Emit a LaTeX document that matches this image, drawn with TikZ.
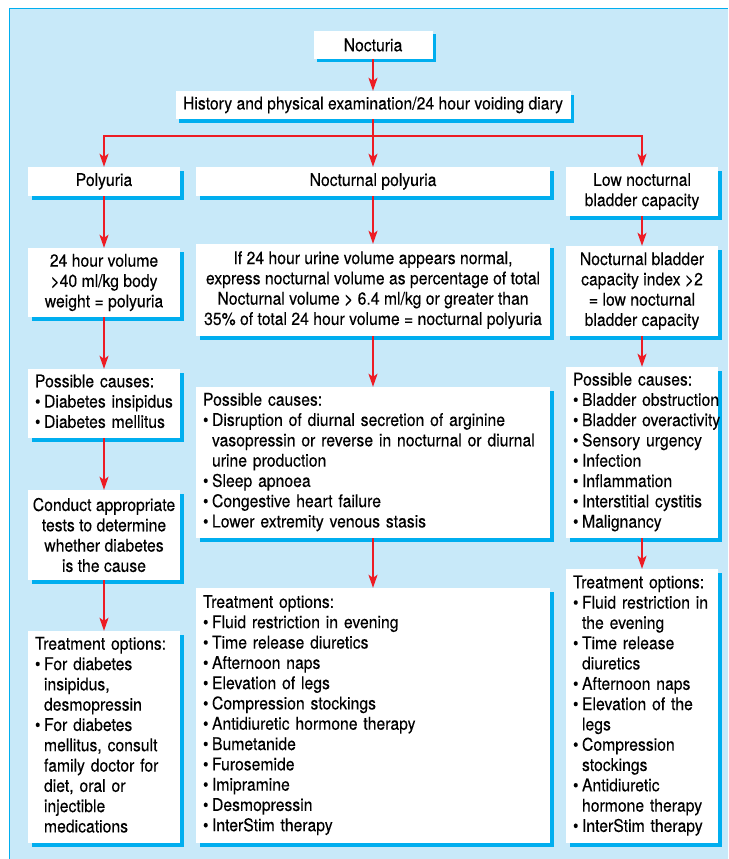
\documentclass[tikz,border=0pt]{standalone}
\usepackage{fontspec}
\setmainfont{TeX Gyre Heros}[FakeStretch=0.9,FakeBold=0.2]
\usepackage{xcolor}
\usetikzlibrary{arrows.meta,shadows}
\definecolor{bgblue}{RGB}{200,233,249}
\definecolor{shcyan}{RGB}{0,174,239}
\definecolor{arred}{RGB}{237,28,36}
\newcommand{\bul}{\textbullet\hspace{3.5pt}}
\newcommand{\ind}{\phantom{\textbullet\hspace{3.5pt}}}
\newcommand{\rows}[1]{\begin{tabular}{@{}l@{}}#1\end{tabular}}
\tikzset{
  box/.style={fill=white,inner ysep=3pt,
    font=\fontsize{17.5}{20.3}\selectfont,
    drop shadow={shadow xshift=3.5pt,shadow yshift=-3.5pt,fill=shcyan,opacity=1}},
  ctr/.style 2 args={box,align=center,inner xsep=3pt,minimum width=#1pt,minimum height=#2pt},
  lst/.style 2 args={box,align=left,inner xsep=7pt,text width=#1pt-14pt,minimum height=#2pt},
  arr/.style={draw=arred,line width=1.6pt,-{Stealth[length=13pt,width=9pt,inset=3pt]}},
}
\begin{document}
\begin{tikzpicture}[x=1pt,y=-1pt]
  \useasboundingbox (0,0) rectangle (728,859);
  % light blue panel
  \fill[bgblue] (9,9) rectangle (728,859);
  \draw[shcyan,line width=1pt] (9,859) -- (9,9) -- (728,9);

  % top
  \node[ctr={119}{28}] (noct) at (373,45) {Nocturia};
  \node[ctr={395}{28}] (hist) at (373,105) {History and physical examination/24 hour voiding diary};

  % three branches
  \node[ctr={152}{29}] (poly) at (104,181.5) {Polyuria};
  \node[ctr={354}{29}] (npoly) at (373,181.5) {Nocturnal polyuria};
  \node[ctr={152}{49}] (lowcap) at (642,191.5) {Low nocturnal\\bladder capacity};

  % criteria
  \node[ctr={152}{69}] (vol) at (104,282.5) {24 hour volume\\>40 ml/kg body\\weight = polyuria};
  \node[ctr={354}{92}] (nvol) at (373,290) {If 24 hour urine volume appears normal,\\express nocturnal volume as percentage of total\\Nocturnal volume > 6.4 ml/kg or greater than\\35\% of total 24 hour volume = nocturnal polyuria};
  \node[ctr={152}{90}] (nbci) at (642,291) {Nocturnal bladder\\capacity index >2\\= low nocturnal\\bladder capacity};

  % causes
  \node[lst={152}{69}] (causeL) at (104,403.5) {\rows{Possible causes:\\\bul Diabetes insipidus\\\bul Diabetes mellitus}};
  \node[lst={354}{151}] (causeM) at (373,462.5) {\rows{Possible causes:\\\bul Disruption of diurnal secretion of arginine\\\ind vasopressin or reverse in nocturnal or diurnal\\\ind urine production\\\bul Sleep apnoea\\\bul Congestive heart failure\\\bul Lower extremity venous stasis}};
  \node[lst={152}{171}] (causeR) at (642,452.5) {\rows{Possible causes:\\\bul Bladder obstruction\\\bul Bladder overactivity\\\bul Sensory urgency\\\bul Infection\\\bul Inflammation\\\bul Interstitial cystitis\\\bul Malignancy}};
  \node[ctr={152}{90}] (tests) at (104,535) {Conduct appropriate\\tests to determine\\whether diabetes\\is the cause};

  % treatment
  \node[lst={152}{212}] (treatL) at (104,737) {\rows{Treatment options:\\\bul For diabetes\\\ind insipidus,\\\ind desmopressin\\\bul For diabetes\\\ind mellitus, consult\\\ind family doctor for\\\ind diet, oral or\\\ind injectible\\\ind medications}};
  \node[lst={354}{255}] (treatM) at (373,715.5) {\rows{Treatment options:\\\bul Fluid restriction in evening\\\bul Time release diuretics\\\bul Afternoon naps\\\bul Elevation of legs\\\bul Compression stockings\\\bul Antidiuretic hormone therapy\\\bul Bumetanide\\\bul Furosemide\\\bul Imipramine\\\bul Desmopressin\\\bul InterStim therapy}};
  \node[lst={152}{274}] (treatR) at (642,706) {\rows{Treatment options:\\\bul Fluid restriction in\\\ind the evening\\\bul Time release\\\ind diuretics\\\bul Afternoon naps\\\bul Elevation of the\\\ind legs\\\bul Compression\\\ind stockings\\\bul Antidiuretic\\\ind hormone therapy\\\bul InterStim therapy}};

  % connectors
  \foreach \a/\b in {noct/hist,hist/npoly,poly/vol,vol/causeL,causeL/tests,tests/treatL,
      npoly/nvol,nvol/causeM,causeM/treatM,lowcap/nbci,nbci/causeR,causeR/treatR}
    \draw[arr] (\a) -- (\b);
  \draw[arr] (hist.south) -- ++(0,17) -| (poly.north);
  \draw[arr] (hist.south) -- ++(0,17) -| (lowcap.north);
\end{tikzpicture}
\end{document}
